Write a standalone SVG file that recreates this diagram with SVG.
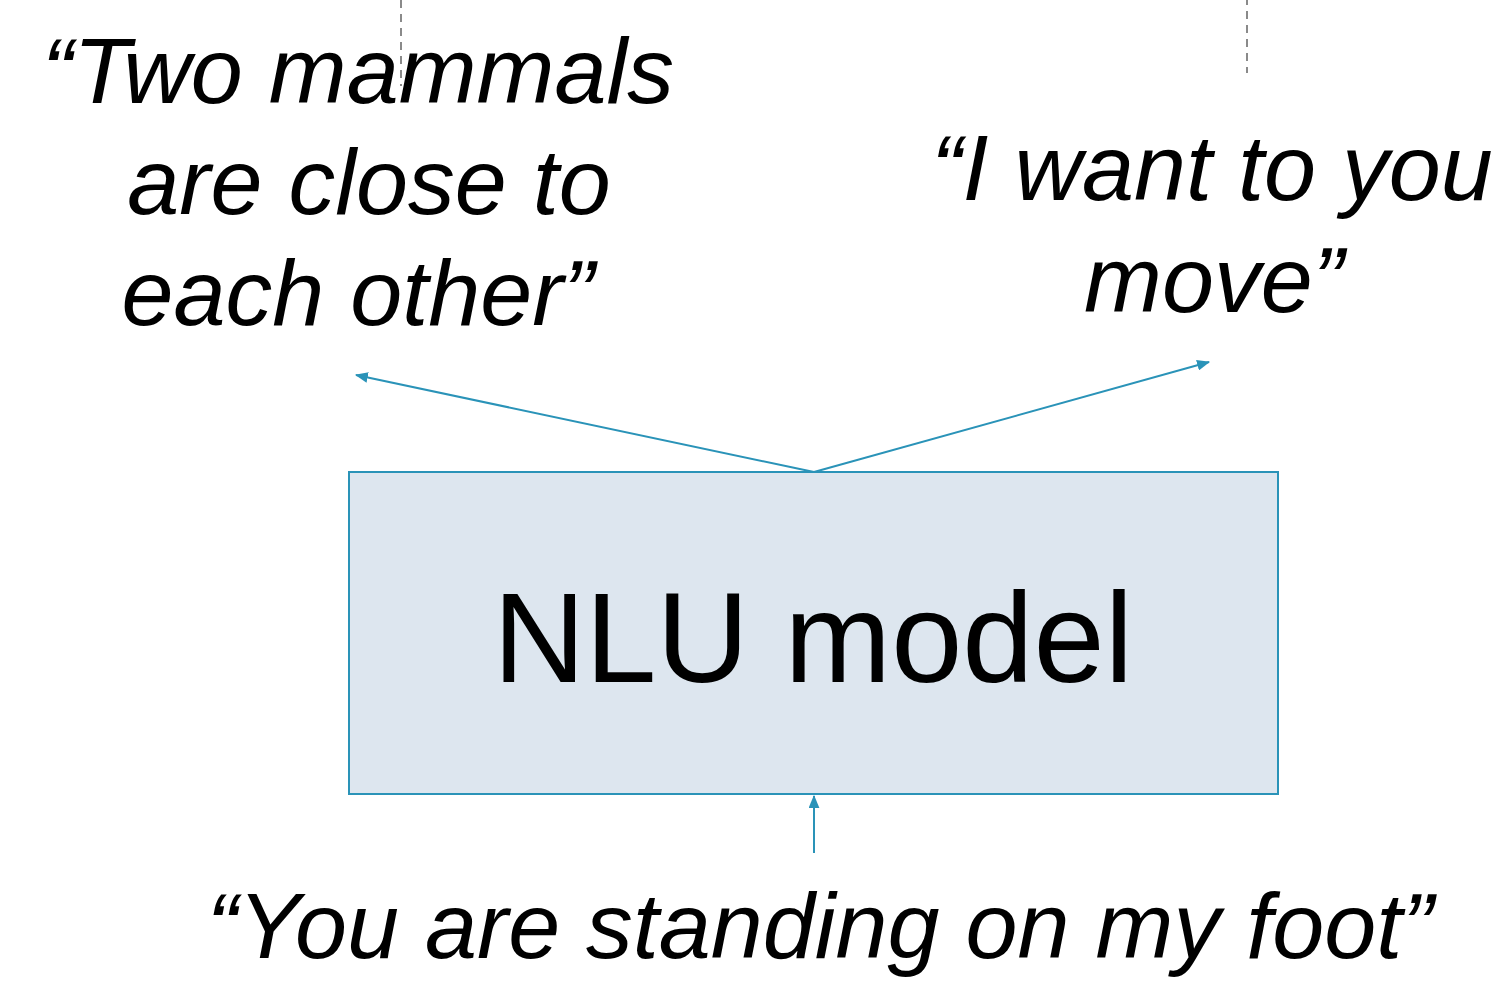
<svg xmlns="http://www.w3.org/2000/svg" width="1502" height="982" viewBox="0 0 1502 982">
  <style>
    .quote { font-family: "Liberation Sans", Arial, sans-serif; font-style: italic; font-size: 93.5px; fill: #000; text-anchor: middle; }
    .label { font-family: "Liberation Sans", Arial, sans-serif; font-size: 128px; fill: #000; text-anchor: middle; }
    .guide { stroke: #8a8a8a; stroke-width: 2; stroke-dasharray: 8 6; fill: none; }
    .link { stroke: #2a93b8; stroke-width: 2; fill: none; marker-end: url(#head); }
  </style>
  <defs>
    <marker id="head" viewBox="0 0 12 10" refX="11" refY="5" markerWidth="13" markerHeight="11" markerUnits="userSpaceOnUse" orient="auto">
      <path d="M0,0 L12,5 L0,10 z" fill="#2a93b8"/>
    </marker>
  </defs>
  <rect width="1502" height="982" fill="#fff"/>

  <!-- dashed guide lines at the top -->
  <g id="guides">
    <line class="guide" x1="401" y1="0" x2="401" y2="86"/>
    <line class="guide" x1="1247" y1="-3" x2="1247" y2="73"/>
  </g>

  <!-- connectors -->
  <g id="connectors">
    <line class="link" x1="814" y1="472" x2="356" y2="375"/>
    <line class="link" x1="814" y1="472" x2="1209" y2="362"/>
    <line class="link" x1="814" y1="853" x2="814" y2="796"/>
  </g>

  <g id="model">
    <rect x="349" y="472" width="929" height="322" fill="#dde6ef" stroke="#2a93b8" stroke-width="2"/>
    <text class="label" x="813" y="682">NLU model</text>
  </g>

  <g id="output-literal">
    <text class="quote" x="358" y="103">“Two mammals</text>
    <text class="quote" x="369" y="214">are close to</text>
    <text class="quote" x="358" y="325">each other”</text>
  </g>

  <g id="output-intent">
    <text class="quote" x="1212" y="200">“I want to you</text>
    <text class="quote" x="1214" y="312">move”</text>
  </g>

  <g id="input">
    <text class="quote" x="820" y="958">“You are standing on my foot”</text>
  </g>
</svg>
